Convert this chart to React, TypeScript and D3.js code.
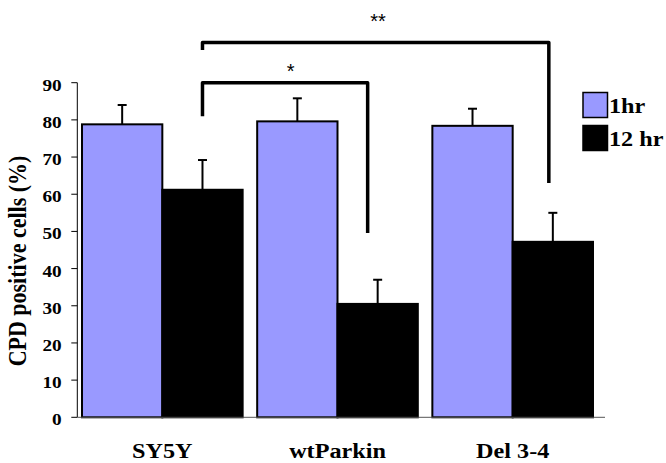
import React from "react";
import * as d3 from "d3";

const categories = ["SY5Y", "wtParkin", "Del 3-4"];
const seriesNames = ["1hr", "12 hr"];
const values1hr = [78.8, 79.6, 78.4];
const values12hr = [61.2, 30.5, 47.2];
const errors1hr = [5.2, 6.2, 4.6];
const errors12hr = [8.0, 6.5, 7.8];
const yTicks = [0, 10, 20, 30, 40, 50, 60, 70, 80, 90];
const seriesColors = ["#9999FF", "#000000"];

// significance brackets between bars
const brackets = [
  { from: ["SY5Y", "12 hr"], to: ["wtParkin", "12 hr"], level: 90, leftEnd: 81, rightEnd: 49.6, dxRight: -10, label: "*", labelLevel: 94.3, labelX: 290.7 },
  { from: ["SY5Y", "12 hr"], to: ["Del 3-4", "12 hr"], level: 100.8, leftEnd: 98.8, rightEnd: 63, dxRight: -4, label: "**", labelLevel: 107.7, labelX: 378 },
];

const W = 666;
const H = 463;
const serif = "'Liberation Serif', 'Times New Roman', serif";
const sans = "'Liberation Sans', Arial, sans-serif";

export default function App() {
  const x0 = d3.scaleBand<string>().domain(categories).range([75, 600]).paddingInner(0.083).paddingOuter(0.04);
  const x1 = d3.scaleBand<string>().domain(seriesNames).range([0, x0.bandwidth()]);
  const y = d3.scaleLinear().domain([0, 90]).range([417.3, 82.7]);
  const axisX0 = 77.3;
  const axisX1 = 605;

  const seriesData = [values1hr, values12hr];
  const seriesErr = [errors1hr, errors12hr];

  const barCenter = (cat: string, s: string) => (x0(cat) ?? 0) + (x1(s) ?? 0) + x1.bandwidth() / 2;

  return (
    <div style={{ position: "absolute", left: 0, top: 0 }}>
      <svg width={W} height={H} style={{ display: "block" }}>
        <rect width={W} height={H} fill="#fff" />
        {seriesNames.map((s, si) =>
          categories.map((c, ci) => {
            const v = seriesData[si][ci];
            const bx = (x0(c) ?? 0) + (x1(s) ?? 0);
            return (
              <rect key={s + c} x={bx} y={y(v)} width={x1.bandwidth()} height={y(0) - y(v)}
                fill={seriesColors[si]} stroke="#000" strokeWidth={2} />
            );
          })
        )}
        {seriesNames.map((s, si) =>
          categories.map((c, ci) => {
            const v = seriesData[si][ci];
            const e = seriesErr[si][ci];
            const cx = barCenter(c, s);
            return (
              <g key={"e" + s + c} stroke="#000" strokeWidth={2}>
                <line x1={cx} x2={cx} y1={y(v)} y2={y(v + e)} />
                <line x1={cx - 4.5} x2={cx + 4.5} y1={y(v + e)} y2={y(v + e)} />
              </g>
            );
          })
        )}
        <line x1={axisX0} x2={axisX0} y1={y(90)} y2={y(0)} stroke="#000" strokeWidth={1} />
        {yTicks.map((t) => (
          <g key={t}>
            <line x1={axisX0 - 6} x2={axisX0} y1={y(t)} y2={y(t)} stroke="#000" strokeWidth={1} />
            <text transform={`translate(61.7,${y(t) + 8}) scale(1.1,1)`} textAnchor="end"
              fontFamily={serif} fontWeight="bold" fontSize={17.5} fill="#000">{t}</text>
          </g>
        ))}
        <line x1={axisX0} x2={axisX1} y1={y(0)} y2={y(0)} stroke="#555" strokeWidth={1} />
        {categories.map((c) => (
          <text key={c} transform={`translate(${(x0(c) ?? 0) + x0.bandwidth() / 2},458) scale(1.1,1)`}
            textAnchor="middle" fontFamily={serif} fontWeight="bold" fontSize={22} fill="#000">{c}</text>
        ))}
        <text transform={`translate(25.5,261) rotate(-90) scale(1,1.1)`} textAnchor="middle"
          fontFamily={serif} fontWeight="bold" fontSize={22} fill="#000">CPD positive cells (%)</text>
        {brackets.map((b, i) => {
          const xl = barCenter(b.from[0], b.from[1]);
          const xr = barCenter(b.to[0], b.to[1]) + b.dxRight;
          return (
            <g key={"b" + i}>
              <path d={`M${xl},${y(b.leftEnd)}V${y(b.level)}H${xr}V${y(b.rightEnd)}`}
                fill="none" stroke="#000" strokeWidth={3.5} strokeLinejoin="round" />
              <text x={b.labelX} y={y(b.labelLevel) + 11} textAnchor="middle"
                fontFamily={sans} fontSize={20} fill="#000">{b.label}</text>
            </g>
          );
        })}
        {seriesNames.map((s, si) => (
          <g key={"l" + s}>
            <rect x={583} y={92.5 + si * 33} width={24.5} height={25} fill={seriesColors[si]} stroke="#000" strokeWidth={1.5} />
            <text transform={`translate(609,${113.3 + si * 33}) scale(1.1,1)`} fontFamily={serif}
              fontWeight="bold" fontSize={22} fill="#000">{s}</text>
          </g>
        ))}
      </svg>
    </div>
  );
}
